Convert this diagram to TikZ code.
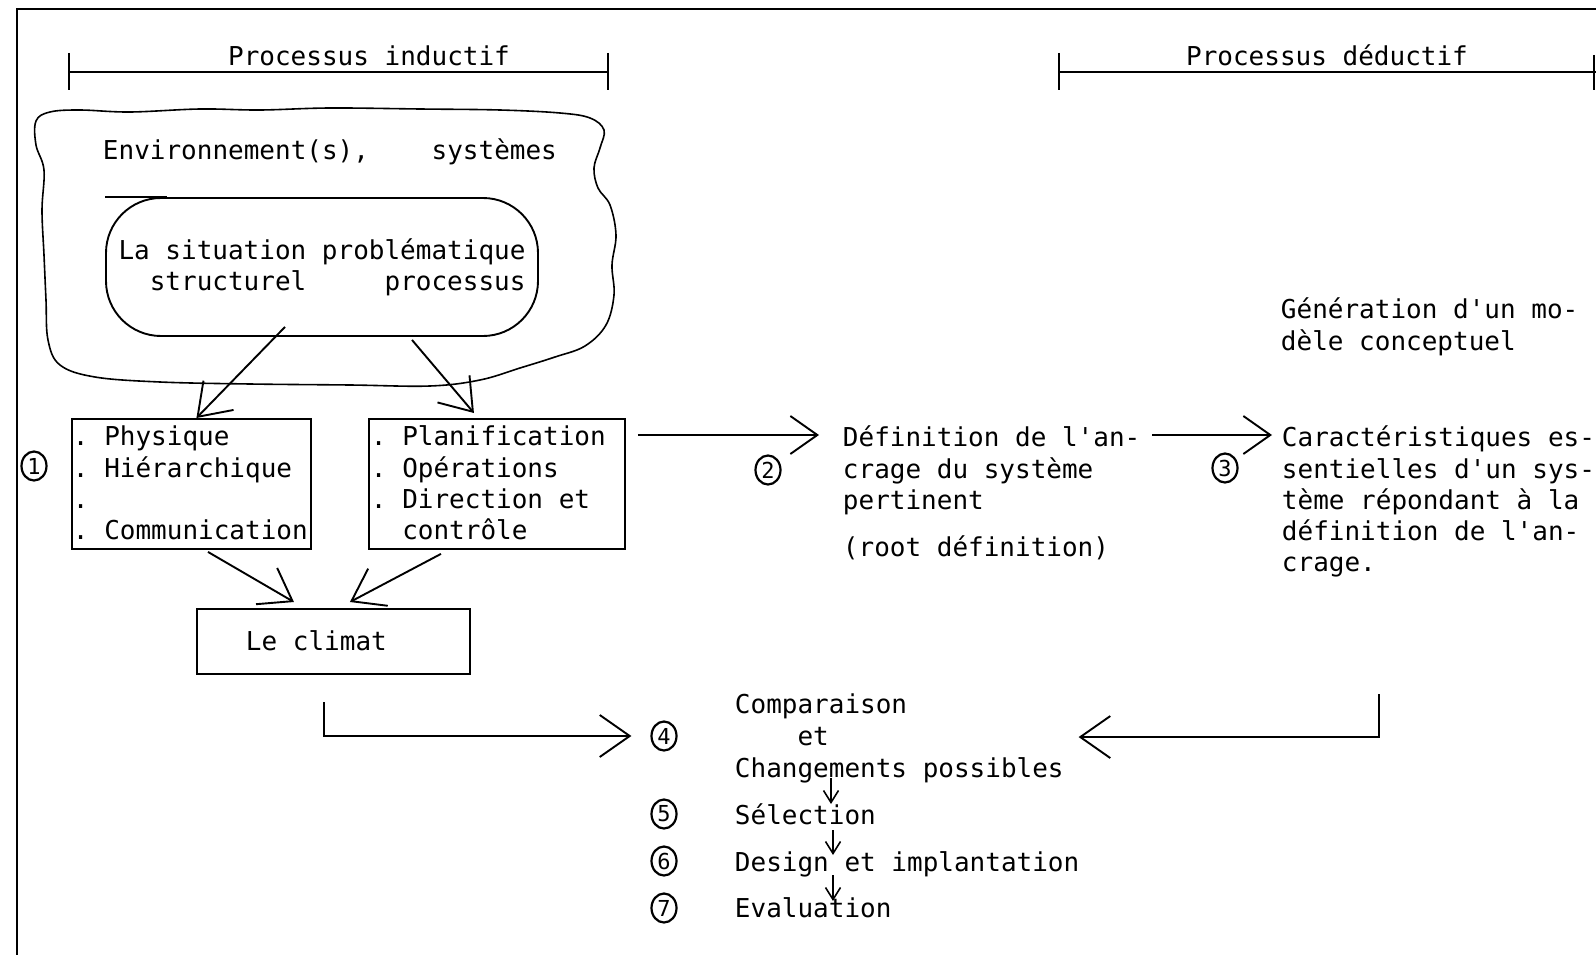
\documentclass[tikz,border=0pt]{standalone}
\usepackage{fontspec}
\setmonofont{DejaVu Sans Mono}
\usetikzlibrary{arrows.meta,shapes.geometric}
% invisible strut fixing the height of the first line of a text block
\newcommand{\fst}{\rule{0pt}{20pt}}

\begin{document}
\begin{tikzpicture}[x=1pt,y=-1pt,line width=1.9pt,
  txt/.style={font=\ttfamily\fontsize{26}{31.3}\selectfont,inner sep=0pt},
  blk/.style={txt,align=left,anchor=north west},
  ln/.style={txt,anchor=base west,text height=20pt,text depth=6pt},
  box/.style={draw,rectangle,inner sep=0pt,anchor=north west},
  num/.style={draw,ellipse,minimum width=25pt,minimum height=29pt,inner sep=0pt,
    line width=2.2pt,font=\ttfamily\fontsize{22}{22}\selectfont},
  bigarr/.style={-{Straight Barb[length=30pt,width=42pt]}},
  midarr/.style={-{Straight Barb[length=27pt,width=38pt]}},
  smallarr/.style={line width=1.6pt,-{Straight Barb[length=12pt,width=15pt]}},
]
\useasboundingbox (0,0) rectangle (1596,955);

% page frame
\draw (17,955) -- (17,9) -- (1596,9);

% phase headings
\node[txt,anchor=base] (ind) at (369,66) {Processus inductif};
\draw (69,53) -- (69,90) (69,72) -- (608,72) (608,53) -- (608,90);
\node[txt,anchor=base] (ded) at (1327,66) {Processus déductif};
\draw (1059,53) -- (1059,90) (1059,72) -- (1596,72) (1594,55) -- (1594,90);

% environment cloud
\draw[line width=1.6pt] plot[smooth cycle,tension=0.6] coordinates {
  (36,121) (50,112) (80,110) (130,112) (200,109) (260,110) (330,108) (420,109)
  (500,110) (560,113) (590,118) (604,130) (600,148) (594,168) (598,188) (610,205)
  (616,235) (612,265) (614,295) (606,325) (585,346) (555,357) (520,368) (480,380)
  (430,386) (350,385) (250,384) (160,382) (95,377) (60,365) (48,340) (46,300)
  (44,255) (42,210) (44,170) (36,145)};
\node[ln] (env) at (102,160) {Environnement(s),~~~~systèmes};

% problem situation
\node[draw,rounded corners=55pt,minimum width=432pt,minimum height=138pt,
  inner sep=0pt,align=left,font=\ttfamily\fontsize{26}{31.3}\selectfont]
  (stad) at (322,267) {La situation problématique\\~~structurel~~~~~processus};
\draw (stad.north west) -- ([xshift=62pt]stad.north west);

% structure and process boxes
\node[box,minimum width=239pt,minimum height=130pt] (b1) at (71,418) {};
\node[blk] (t1) at ([xshift=1pt,yshift=-7pt]b1.north west)
  {\fst. Physique\\. Hiérarchique\\.\\. Communication};
\node[box,minimum width=256pt,minimum height=130pt] (b2) at (368,418) {};
\node[blk] (t2) at ([xshift=2pt,yshift=-7pt]b2.north west)
  {\fst. Planification\\. Opérations\\. Direction et\\~~contrôle};
\node[num] (n1) at (34,466) {1};

% climate
\node[box,minimum width=273pt,minimum height=65pt] (clim) at (196,608) {};
\node[ln] (climtxt) at ([xshift=49pt,yshift=-9.5pt]clim.west) {Le climat};

\draw[bigarr] ([xshift=-37pt,yshift=10pt]stad.south) -- ([xshift=5pt]b1.north);
\draw[bigarr] ([xshift=90pt,yshift=-3pt]stad.south) -- ([xshift=-23pt,yshift=5pt]b2.north);
\draw[bigarr] ([xshift=16.5pt,yshift=-2pt]b1.south) -- ([xshift=-39.5pt,yshift=6pt]clim.north);
\draw[bigarr] ([xshift=-56pt,yshift=-4pt]b2.south) -- ([xshift=16.5pt,yshift=6pt]clim.north);

% root definition
\node[blk] (def) at (842,425)
  {\fst Définition de l'an-\\crage du système\\pertinent};
\node[ln] (rootdef) at (842,556) {(root définition)};
\node[num] (n2) at (768,470) {2};
\draw[midarr] ([xshift=12pt,yshift=-17pt]b2.north east) -- ([xshift=-23pt,yshift=-10pt]def.north west);

% conceptual model
\node[blk] (gen) at (1280,297) {\fst Génération d'un mo-\\dèle conceptuel};
\node[blk] (car) at (1281,425)
  {\fst Caractéristiques es-\\sentielles d'un sys-\\tème répondant à la\\définition de l'an-\\crage.};
\node[num] (n3) at (1225,468) {3};
\draw[midarr] ([xshift=11pt,yshift=-10pt]def.north east) -- ([xshift=-9pt,yshift=-10pt]car.north west);

% comparison and following stages
\node[ln] (comp) at (734,713) {Comparaison};
\node[ln] (et) at (734,745) {~~~~et};
\node[ln] (chg) at (734,777) {Changements possibles};
\node[ln] (sel) at (734,824) {Sélection};
\node[ln] (des) at (734,871) {Design et implantation};
\node[ln] (eva) at (734,917) {Evaluation};
\node[num] (n4) at (664,736) {4};
\node[num] (n5) at (664,814) {5};
\node[num] (n6) at (664,861) {6};
\node[num] (n7) at (664,908) {7};

\coordinate (lb) at (324,702);
\coordinate (rb) at (1379,694);
\draw[bigarr] (lb) |- ([xshift=-19pt]n4.west);
\draw[bigarr] (rb) |- ([xshift=14pt,yshift=19pt]chg.north east);

\draw[smallarr] ([xshift=97pt,yshift=-1pt]chg.base west) -- ([xshift=97pt,yshift=20pt]sel.base west);
\draw[smallarr] ([xshift=99pt,yshift=-6pt]sel.base west) -- ([xshift=99pt,yshift=16pt]des.base west);
\draw[smallarr] ([xshift=99pt,yshift=-4pt]des.base west) -- ([xshift=99pt,yshift=16pt]eva.base west);
\end{tikzpicture}
\end{document}
